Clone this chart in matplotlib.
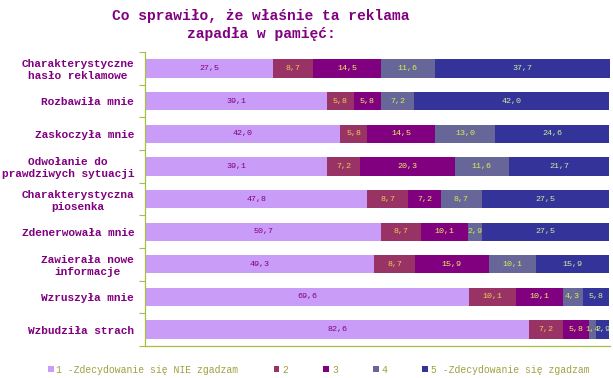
import matplotlib
matplotlib.use("Agg")
import matplotlib.pyplot as plt
import numpy as np

categories = [
    "Charakterystyczne\nhasło reklamowe",
    "Rozbawiła mnie",
    "Zaskoczyła mnie",
    "Odwołanie do\nprawdziwych sytuacji",
    "Charakterystyczna\npiosenka",
    "Zdenerwowała mnie",
    "Zawierała nowe\ninformacje",
    "Wzruszyła mnie",
    "Wzbudziła strach",
]
series_names = ["1 -Zdecydowanie się NIE zgadzam", "2", "3", "4", "5 -Zdecydowanie się zgadzam"]
s1 = [27.5, 39.1, 42.0, 39.1, 47.8, 50.7, 49.3, 69.6, 82.6]
s2 = [8.7, 5.8, 5.8, 7.2, 8.7, 8.7, 8.7, 10.1, 7.2]
s3 = [14.5, 5.8, 14.5, 20.3, 7.2, 10.1, 15.9, 10.1, 5.8]
s4 = [11.6, 7.2, 13.0, 11.6, 8.7, 2.9, 10.1, 4.3, 1.4]
s5 = [37.7, 42.0, 24.6, 21.7, 27.5, 27.5, 15.9, 5.8, 2.9]
series = [s1, s2, s3, s4, s5]

colors = ["#c99cf7", "#993366", "#800080", "#666699", "#333399"]
label_colors = ["#800080", "#e8d050", "#f0f060", "#d8f050", "#d0f0a0"]
title = "Co sprawiło, że właśnie ta reklama\nzapadła w pamięć:"

fig = plt.figure(figsize=(6.13, 3.78), dpi=100)
ax = fig.add_axes([0.237, 0.085, 0.758, 0.777])

font = "Liberation Mono"
y = np.arange(len(categories))
left = np.zeros(len(categories))
for vals, c, lc, name in zip(series, colors, label_colors, series_names):
    vals = np.array(vals)
    ax.barh(y, vals, left=left, height=0.56, color=c, edgecolor="none", label=name)
    for yi, (l, v) in enumerate(zip(left, vals)):
        fs = 6 if v >= 2 else 5.5
        ax.text(l + v / 2, yi, f"{v:.1f}".replace(".", ","), ha="center", va="center",
                fontsize=fs, color=lc, family=font)
    left = left + vals

ax.set_xlim(0, 100)
ax.set_ylim(len(categories) - 0.5, -0.5)
ax.set_yticks(y)
ax.set_yticklabels(categories, family=font, fontweight="bold", fontsize=8, color="#800080",
                   ha="right", multialignment="center")
ax.tick_params(axis="y", which="major", length=0, pad=8)
ax.set_yticks(np.arange(-0.5, len(categories) + 0.5, 1), minor=True)
ax.tick_params(axis="y", which="minor", length=4, color="#a8c040", width=0.8)
ax.set_xticks([])
for side in ["top", "right"]:
    ax.spines[side].set_visible(False)
for side in ["left", "bottom"]:
    ax.spines[side].set_color("#a8c040")
    ax.spines[side].set_linewidth(0.9)

fig.text(0.426, 0.933, title, ha="center", va="center", family=font, fontweight="bold",
         fontsize=10.5, color="#800080", linespacing=1.35)

handles, labels = ax.get_legend_handles_labels()
leg = fig.legend(handles, labels, loc="center", bbox_to_anchor=(0.52, 0.022), ncol=5,
                 frameon=False, prop={"family": font, "size": 7}, handlelength=0.6,
                 handleheight=0.6, handletextpad=0.3, columnspacing=3.6)
for t in leg.get_texts():
    t.set_color("#a0a040")

fig.savefig("out.png", dpi=100)
